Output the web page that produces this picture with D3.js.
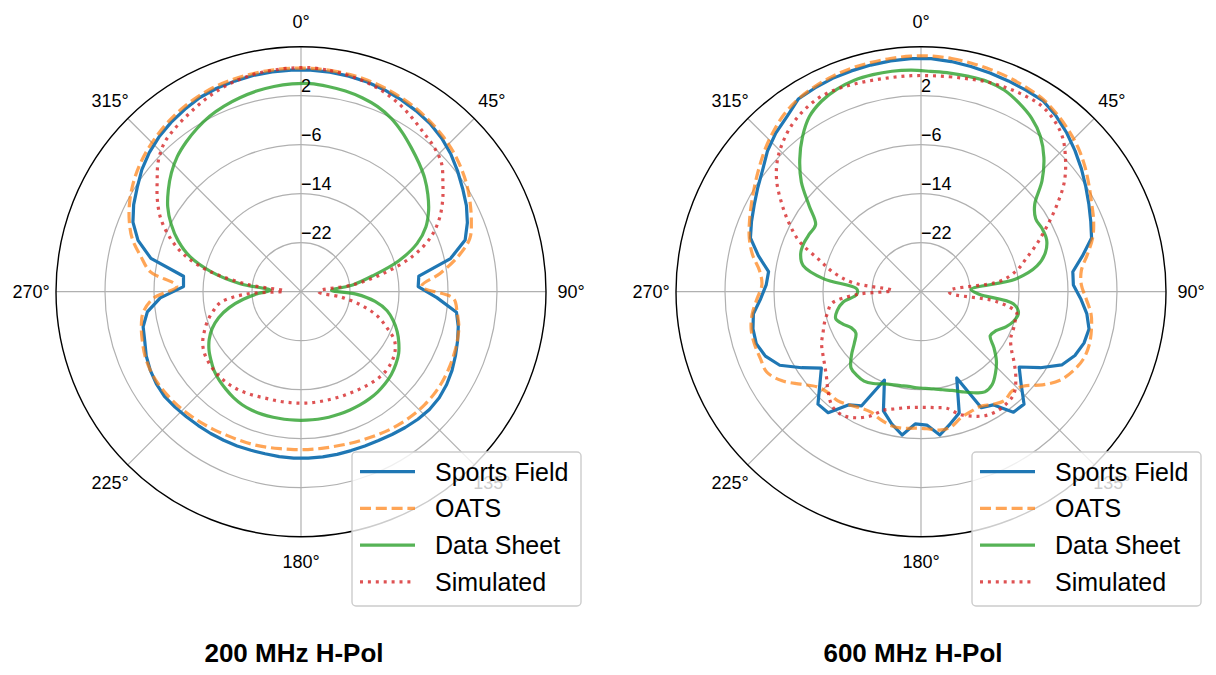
<!DOCTYPE html>
<html>
<head>
<meta charset="utf-8">
<script src="https://cdn.jsdelivr.net/npm/d3@7"></script>
<style>
  body { margin: 0; background: #fff; }
  svg { display: block; }
  text { font-family: "Liberation Sans", Arial, Helvetica, sans-serif; }
</style>
</head>
<body>
<svg id="chart" width="1216" height="675"></svg>
<script>
// Measurement azimuths (degrees, clockwise from 0°)
const angles = [2.5, 7.5, 12.5, 17.5, 22.5, 27.5, 32.5, 37.5, 42.5, 47.5, 52.5, 57.5,
  62.5, 67.5, 72.5, 77.5, 82.5, 87.5, 92.5, 97.5, 102.5, 107.5, 112.5, 117.5,
  122.5, 127.5, 132.5, 137.5, 142.5, 147.5, 152.5, 157.5, 162.5, 167.5, 172.5, 177.5,
  182.5, 187.5, 192.5, 197.5, 202.5, 207.5, 212.5, 217.5, 222.5, 227.5, 232.5, 237.5,
  242.5, 247.5, 252.5, 257.5, 262.5, 267.5, 272.5, 277.5, 282.5, 287.5, 292.5, 297.5,
  302.5, 307.5, 312.5, 317.5, 322.5, 327.5, 332.5, 337.5, 342.5, 347.5, 352.5, 357.5];

const seriesNames = ["Sports Field", "OATS", "Data Sheet", "Simulated"];
const panelTitles = ["200 MHz H-Pol", "600 MHz H-Pol"];
const radialTicks = [-22, -14, -6, 2];
const angleTicks = [0, 45, 90, 135, 180, 225, 270, 315];
const radialDomain = [-30, 10];

// 200 MHz gain patterns (dB)
const sportsField200 = [6.2, 6.15, 6.05, 5.9, 5.65, 5.35, 5.0, 4.6, 4.0, 3.2, 2.25, 1.3,
  0.45, -0.6, -1.9, -5.0, -10.6, -10.85, -7.8, -4.4, -3.7, -3.2, -2.7, -2.2,
  -1.8, -1.55, -1.55, -1.75, -2.05, -2.35, -2.6, -2.75, -2.8, -2.8, -2.8, -2.8,
  -2.8, -2.85, -2.9, -2.85, -2.75, -2.65, -2.55, -2.45, -2.3, -2.1, -1.9, -2.0,
  -2.25, -2.65, -3.25, -3.6, -4.7, -7.0, -10.8, -10.65, -4.9, -2.1, -0.3, 0.8,
  1.7, 2.75, 3.6, 4.3, 4.85, 5.3, 5.75, 5.95, 6.05, 6.15, 6.2, 6.2];
const oats200 = [6.5, 6.45, 6.35, 6.2, 5.95, 5.65, 5.3, 4.85, 4.35, 3.75, 3.0, 2.15,
  1.15, 0.1, -1.1, -3.8, -7.1, -10.3, -5.1, -4.3, -3.6, -3.25, -3.0, -2.8,
  -2.65, -2.6, -2.65, -2.8, -3.0, -3.25, -3.55, -3.8, -4.0, -4.15, -4.2, -4.2,
  -4.2, -4.15, -4.0, -3.85, -3.75, -3.6, -3.35, -3.1, -2.85, -2.6, -2.4, -2.25,
  -2.25, -2.45, -2.85, -3.3, -4.0, -5.9, -9.7, -5.2, -3.2, -1.1, 0.35, 1.55,
  2.55, 3.4, 4.1, 4.7, 5.25, 5.7, 6.05, 6.3, 6.4, 6.45, 6.5, 6.5];
const dataSheet200 = [4.0, 3.8, 3.55, 3.2, 2.7, 1.9, 0.8, -0.4, -1.5, -2.6, -3.9, -5.3,
  -7.0, -9.5, -13.3, -18.0, -21.5, -25.0, -21.0, -17.8, -15.6, -14.2, -13.0, -12.0,
  -11.1, -10.5, -10.0, -9.65, -9.4, -9.25, -9.15, -9.1, -9.05, -9.0, -9.0, -9.0,
  -9.0, -9.0, -9.0, -9.0, -9.05, -9.2, -9.5, -9.9, -10.3, -10.8, -11.5, -12.2,
  -13.1, -14.3, -15.9, -18.0, -20.5, -23.0, -25.0, -20.0, -15.0, -11.0, -8.3, -6.1,
  -4.2, -2.7, -1.3, -0.1, 0.8, 1.6, 2.3, 2.8, 3.2, 3.55, 3.8, 3.95];
const simulated200 = [6.6, 6.4, 6.15, 5.8, 5.3, 4.6, 3.7, 2.8, 2.1, 1.1, -0.8, -2.6,
  -4.6, -7.2, -11.0, -16.2, -21.5, -27.0, -27.0, -23.5, -20.0, -17.0, -14.9, -12.8,
  -11.8, -11.3, -11.05, -11.05, -11.2, -11.4, -11.55, -11.65, -11.75, -11.8, -11.8, -11.8,
  -11.8, -11.8, -11.75, -11.7, -11.5, -11.25, -11.0, -10.85, -10.8, -10.85, -11.0, -11.3,
  -11.9, -12.9, -14.0, -15.3, -16.8, -21.0, -27.2, -21.5, -14.8, -10.0, -6.8, -4.2,
  -2.2, -0.4, 1.6, 3.0, 3.7, 4.3, 4.95, 5.55, 6.0, 6.3, 6.45, 6.55];

// 600 MHz gain patterns (dB)
const sportsField600 = [8.1, 7.9, 7.65, 7.45, 7.25, 7.1, 7.0, 6.2, 5.2, 4.1, 3.0, 1.9,
  0.9, 0.0, -0.8, -3.0, -5.0, -5.1, -3.9, -2.7, -1.9, -2.1, -2.8, -4.1,
  -6.9, -9.8, -7.85, -5.1, -5.2, -8.1, -8.65, -14.75, -9.25, -7.9, -6.4, -8.2,
  -8.4, -6.4, -7.9, -9.6, -14.4, -9.0, -8.1, -5.1, -5.1, -7.6, -9.5, -6.9,
  -4.0, -2.5, -1.8, -1.9, -2.4, -3.8, -4.7, -4.9, -2.8, -0.8, -0.05, 0.7,
  1.6, 2.6, 4.0, 5.1, 6.0, 7.3, 7.5, 7.7, 7.8, 7.9, 8.0, 8.1];
const oats600 = [8.5, 8.4, 8.2, 8.0, 7.8, 7.5, 7.2, 6.5, 5.7, 4.8, 3.7, 2.5,
  1.4, 0.5, -0.6, -2.2, -3.6, -3.8, -3.0, -2.0, -1.5, -1.2, -1.3, -2.0,
  -3.1, -5.0, -7.2, -8.0, -7.6, -8.2, -8.9, -8.8, -8.4, -7.4, -7.2, -7.6,
  -7.7, -7.5, -7.6, -8.1, -8.7, -8.6, -8.1, -7.6, -7.6, -7.0, -5.2, -3.0,
  -1.6, -1.6, -1.5, -1.6, -2.2, -3.2, -4.0, -3.4, -1.8, -0.6, 0.3, 1.2,
  2.2, 3.3, 4.5, 5.6, 6.6, 7.3, 7.7, 8.0, 8.2, 8.3, 8.4, 8.5];
const dataSheet600 = [6.0, 6.0, 6.0, 6.0, 5.6, 4.7, 3.6, 2.0, -0.3, -3.2, -6.6, -7.8,
  -7.7, -7.8, -8.7, -10.6, -14.5, -21.8, -20.5, -14.8, -13.7, -14.1, -15.0, -16.2,
  -16.6, -15.0, -13.3, -12.0, -10.9, -10.6, -11.4, -12.3, -13.1, -13.6, -14.0, -14.2,
  -14.3, -14.4, -14.3, -14.1, -13.7, -13.1, -12.7, -12.8, -13.1, -14.6, -16.3, -17.4,
  -17.2, -16.2, -15.4, -16.0, -17.2, -19.5, -19.5, -14.0, -10.3, -9.4, -9.3, -9.5,
  -9.6, -7.0, -3.5, -0.7, 1.8, 3.9, 5.1, 5.8, 6.2, 6.3, 6.3, 6.2];
const simulated600 = [5.3, 5.4, 5.6, 5.9, 6.1, 6.2, 6.2, 5.5, 4.2, 2.0, -0.5, -3.7,
  -6.8, -9.5, -12.0, -14.0, -17.0, -25.3, -25.3, -17.5, -14.0, -13.9, -13.7, -13.5,
  -12.5, -10.8, -9.0, -7.5, -7.0, -6.9, -7.2, -8.0, -9.0, -10.5, -10.9, -11.1,
  -11.1, -10.9, -10.4, -9.7, -8.0, -6.8, -6.1, -6.3, -7.6, -9.1, -10.2, -11.0,
  -11.7, -12.7, -13.5, -14.4, -15.3, -19.5, -25.3, -18.8, -15.3, -12.5, -8.5, -5.7,
  -3.0, -0.3, 1.8, 3.3, 4.5, 5.3, 5.8, 5.8, 5.6, 5.4, 5.3, 5.3];

const panels = [
  { cx: 301, cy: 291.7, titleX: 294, title: panelTitles[0],
    series: [sportsField200, oats200, dataSheet200, simulated200] },
  { cx: 921, cy: 291.7, titleX: 913, title: panelTitles[1],
    series: [sportsField600, oats600, dataSheet600, simulated600] }
];

const styles = [
  { color: "#1f77b4", opacity: 1.0, dash: null, curve: d3.curveLinearClosed },
  { color: "#ff7f0e", opacity: 0.7, dash: "11,4.8", curve: d3.curveCatmullRomClosed.alpha(0.5) },
  { color: "#2ca02c", opacity: 0.8, dash: null, curve: d3.curveCatmullRomClosed.alpha(0.5) },
  { color: "#d62728", opacity: 0.8, dash: "3,4.9", curve: d3.curveCatmullRomClosed.alpha(0.5) }
];

const R = 245;
const rScale = d3.scaleLinear().domain(radialDomain).range([0, R]);
const toRad = d => d * Math.PI / 180;
const svg = d3.select("#chart");
svg.append("rect").attr("width", 1216).attr("height", 675).attr("fill", "#fff");

panels.forEach(p => {
  const g = svg.append("g").attr("transform", `translate(${p.cx},${p.cy})`);

  // concentric grid rings
  g.selectAll("circle.ring").data(radialTicks).join("circle")
    .attr("class", "ring")
    .attr("r", d => rScale(d))
    .attr("fill", "none").attr("stroke", "#b0b0b0").attr("stroke-width", 1.2);

  // angular grid spokes
  g.selectAll("line.spoke").data(angleTicks).join("line")
    .attr("class", "spoke")
    .attr("x1", 0).attr("y1", 0)
    .attr("x2", d => R * Math.sin(toRad(d)))
    .attr("y2", d => -R * Math.cos(toRad(d)))
    .attr("stroke", "#b0b0b0").attr("stroke-width", 1.2);

  // pattern curves
  p.series.forEach((vals, i) => {
    const st = styles[i];
    const pts = angles.map((a, k) => [a, vals[k]]);
    const line = d3.lineRadial()
      .angle(d => toRad(d[0]))
      .radius(d => rScale(d[1]))
      .curve(st.curve);
    g.append("path")
      .attr("d", line(pts))
      .attr("fill", "none")
      .attr("stroke", st.color)
      .attr("stroke-opacity", st.opacity)
      .attr("stroke-width", 3.2)
      .attr("stroke-linejoin", "round")
      .attr("stroke-dasharray", st.dash);
  });

  // outer frame
  g.append("circle").attr("r", R).attr("fill", "none")
    .attr("stroke", "#000").attr("stroke-width", 1.4);

  // angle labels
  g.selectAll("text.theta").data(angleTicks).join("text")
    .attr("class", "theta")
    .attr("x", d => (R + 25) * Math.sin(toRad(d)))
    .attr("y", d => -(R + 25) * Math.cos(toRad(d)))
    .attr("text-anchor", "middle")
    .attr("dominant-baseline", "central")
    .attr("font-size", 18)
    .attr("fill", "#000")
    .text(d => d + "°");

  // radial value labels
  g.selectAll("text.rlab").data(radialTicks).join("text")
    .attr("class", "rlab")
    .attr("x", 0)
    .attr("y", d => -rScale(d) - 3.5)
    .attr("font-size", 18)
    .attr("fill", "#000")
    .text(d => d3.format("")(d).replace("-", "\u2212"));

  // legend
  const lg = g.append("g").attr("transform", `translate(51,${452 - p.cy})`);
  lg.append("rect")
    .attr("width", 229).attr("height", 154).attr("rx", 4)
    .attr("fill", "#fff").attr("fill-opacity", 0.8)
    .attr("stroke", "#cccccc").attr("stroke-width", 1.4);
  seriesNames.forEach((name, i) => {
    const y = 19.7 + i * 36.7;
    const st = styles[i];
    lg.append("line")
      .attr("x1", 8).attr("x2", 63).attr("y1", y).attr("y2", y)
      .attr("stroke", st.color).attr("stroke-opacity", st.opacity)
      .attr("stroke-width", 3.2).attr("stroke-dasharray", st.dash);
    lg.append("text")
      .attr("x", 83).attr("y", y + 9)
      .attr("font-size", 25).attr("fill", "#000")
      .text(name);
  });

  // panel title
  svg.append("text")
    .attr("x", p.titleX).attr("y", 662)
    .attr("text-anchor", "middle")
    .attr("font-size", 26).attr("font-weight", "bold")
    .attr("fill", "#000")
    .text(p.title);
});
</script>
</body>
</html>
